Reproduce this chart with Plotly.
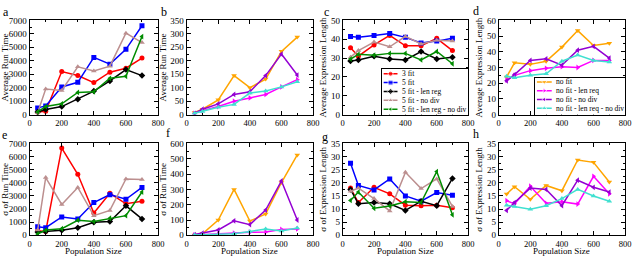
import plotly.graph_objects as go

pop = [50, 100, 200, 300, 400, 500, 600, 700]

fit_names = ["3 fit", "5 fit", "5 fit - len reg", "5 fit - no div", "5 fit - len reg - no div"]
nofit_names = ["no fit", "no fit - len req", "no fit - no div", "no fit - len req - no div"]

# a: average run time (fit)
a_3fit = [200, 250, 3200, 2900, 2380, 3150, 3450, 4200]
a_5fit = [500, 650, 2050, 2400, 4250, 3750, 4850, 6600]
a_5fit_lr = [200, 380, 600, 1150, 1750, 2500, 3350, 2900]
a_5fit_nd = [150, 1900, 1800, 3550, 3250, 3600, 6050, 5350]
a_5fit_lr_nd = [200, 600, 800, 1650, 1700, 2700, 2850, 5800]

# b: average run time (no fit)
b_nofit = [8, 20, 55, 145, 100, 132, 235, 288]
b_nofit_lr = [5, 15, 30, 50, 62, 75, 103, 130]
b_nofit_nd = [5, 20, 40, 75, 85, 145, 225, 147]
b_nofit_lr_nd = [5, 12, 27, 38, 80, 88, 103, 122]

# c: average expression length (fit)
c_3fit = [35.5, 31, 37, 42, 36.5, 36.5, 40.5, 34]
c_5fit = [41.5, 41, 42, 43, 41, 38, 39, 40.5]
c_5fit_lr = [28.5, 29, 31, 29.5, 29, 33.5, 29.5, 30.5]
c_5fit_nd = [30.5, 34, 38.5, 36, 41.5, 37.5, 39.5, 39]
c_5fit_lr_nd = [29.5, 32, 31.5, 32.5, 32.5, 29, 33.5, 27]

# d: average expression length (no fit)
d_nofit = [24, 33, 32, 34, 43, 53.5, 44, 45.5]
d_nofit_lr = [22, 25, 28, 29.5, 30.5, 30, 34.5, 34.5]
d_nofit_nd = [21.5, 25.5, 34.5, 35.5, 31.5, 41, 43.5, 36]
d_nofit_lr_nd = [24.5, 23.5, 25, 26, 34, 38, 34.5, 33.5]

# e: sigma of run time (fit)
e_3fit = [350, 300, 6650, 4650, 1700, 3200, 2400, 2600]
e_5fit = [650, 580, 1400, 1250, 2500, 3100, 2750, 3650]
e_5fit_lr = [250, 300, 380, 580, 1000, 1050, 2250, 1250]
e_5fit_nd = [400, 4400, 2350, 3650, 1500, 1900, 4300, 4250]
e_5fit_lr_nd = [100, 400, 500, 1150, 1050, 1300, 1500, 3300]

# f: sigma of run time (no fit)
f_nofit = [2, 10, 100, 300, 93, 140, 345, 525]
f_nofit_lr = [2, 5, 8, 15, 20, 22, 38, 42]
f_nofit_nd = [5, 15, 35, 95, 70, 165, 355, 100]
f_nofit_lr_nd = [2, 3, 5, 10, 25, 42, 28, 48]

# g: sigma of expression length (fit)
g_3fit = [18, 12.5, 18.3, 15.8, 11.5, 11.3, 11.5, 10.5]
g_5fit = [27.5, 19, 17.3, 21.5, 15, 13, 16.3, 15.3]
g_5fit_lr = [17.5, 12, 12.5, 12, 9.5, 13, 11.3, 21.7]
g_5fit_nd = [16.8, 18, 14, 9.3, 24, 17.8, 21.5, 11]
g_5fit_lr_nd = [13.3, 16.5, 10.3, 11.2, 12.8, 12.5, 24.3, 7.8]

# h: sigma of expression length (no fit)
h_nofit = [15.7, 18.5, 13.7, 19, 17, 28.7, 27.8, 20.3]
h_nofit_lr = [13.2, 12, 18.7, 12.2, 12.8, 11.9, 22.5, 15.8]
h_nofit_nd = [9.5, 12.5, 18, 17.5, 11.3, 21, 18.3, 16.5]
h_nofit_lr_nd = [11.5, 11, 9.9, 11.3, 14, 17.5, 15, 13]

panel_letters = ["a", "b", "c", "d", "e", "f", "g", "h"]
y_titles = ["Average Run Time", "Average Run Time", "Average Expression Length", "Average Expression Length",
            "σ of Run Time", "σ of Run Time", "σ of Expression Length", "σ of Expression Length"]
x_title = "Population Size"

fit_colors = ["#ff0000", "#0000ff", "#000000", "#bc8f8f", "#008c00"]
fit_symbols = ["circle", "square", "diamond", "triangle-up", "triangle-left"]
nofit_colors = ["#ffa500", "#ff00ff", "#9400d3", "#40e0d0"]
nofit_symbols = ["triangle-down", "triangle-right", "triangle-left", "triangle-up"]

panels = [
    ([a_3fit, a_5fit, a_5fit_lr, a_5fit_nd, a_5fit_lr_nd], "fit", 7000, 1000),
    ([b_nofit, b_nofit_lr, b_nofit_nd, b_nofit_lr_nd], "nofit", 350, 50),
    ([c_3fit, c_5fit, c_5fit_lr, c_5fit_nd, c_5fit_lr_nd], "fit", 50, 10),
    ([d_nofit, d_nofit_lr, d_nofit_nd, d_nofit_lr_nd], "nofit", 60, 10),
    ([e_3fit, e_5fit, e_5fit_lr, e_5fit_nd, e_5fit_lr_nd], "fit", 7000, 1000),
    ([f_nofit, f_nofit_lr, f_nofit_nd, f_nofit_lr_nd], "nofit", 600, 100),
    ([g_3fit, g_5fit, g_5fit_lr, g_5fit_nd, g_5fit_lr_nd], "fit", 35, 5),
    ([h_nofit, h_nofit_lr, h_nofit_nd, h_nofit_lr_nd], "nofit", 35, 5),
]

W, H = 640, 261
FONT = "Liberation Serif"
left_px = [28, 187, 345, 503]
right_px = [158, 315, 472, 631]
rows_px = [(16, 114), (144, 239.5)]

fig = go.Figure()
layout = dict(
    width=W, height=H, margin=dict(l=0, r=0, t=0, b=0),
    paper_bgcolor="white", plot_bgcolor="white", showlegend=False,
    font=dict(family=FONT, size=9, color="black"),
)
annotations = []

for i, (series, kind, ymax, dy) in enumerate(panels):
    k = i + 1
    col = i % 4
    row = i // 4
    xa = "x" if k == 1 else f"x{k}"
    ya = "y" if k == 1 else f"y{k}"
    colors = fit_colors if kind == "fit" else nofit_colors
    symbols = fit_symbols if kind == "fit" else nofit_symbols
    names = fit_names if kind == "fit" else nofit_names
    for s, c, sym, n in zip(series, colors, symbols, names):
        fig.add_trace(go.Scatter(
            x=pop, y=s, mode="lines+markers", name=n, xaxis=xa, yaxis=ya,
            line=dict(color=c, width=1.5),
            marker=dict(color=c, symbol=sym, size=5),
        ))
    top, bot = rows_px[row]
    axcommon = dict(showline=True, mirror="ticks", linecolor="black", linewidth=1,
                    ticks="inside", ticklen=4, tickwidth=1, tickcolor="black",
                    showgrid=False, zeroline=False,
                    tickfont=dict(family=FONT, size=9),
                    minor=dict(ticks="inside", ticklen=2, tickcolor="black", showgrid=False))
    xaxis = dict(axcommon, domain=[left_px[col] / W, right_px[col] / W], range=[0, 800],
                 tick0=0, dtick=200, anchor=ya)
    xaxis["tickfont"] = dict(family=FONT, size=8.5)
    xaxis["minor"] = dict(axcommon["minor"], dtick=100)
    yaxis = dict(axcommon, domain=[1 - bot / H, 1 - top / H], range=[0, ymax],
                 tick0=0, dtick=dy, anchor=xa,
                 title=dict(text=y_titles[i], font=dict(family=FONT, size=9), standoff=2))
    yaxis["minor"] = dict(axcommon["minor"], dtick=dy / 2)
    layout["xaxis" if k == 1 else f"xaxis{k}"] = xaxis
    layout["yaxis" if k == 1 else f"yaxis{k}"] = yaxis
    if row == 1:
        annotations.append(dict(text=x_title, x=(left_px[col] + right_px[col]) / 2 / W,
                                y=0, xref="paper", yref="paper", showarrow=False,
                                xanchor="center", yanchor="bottom", borderpad=0, borderwidth=0,
                                font=dict(family=FONT, size=9, color="black")))

letter_pos = [(4, 7), (164, 7), (329, 7), (480, 6), (3, 135), (168, 133), (327, 137), (480, 134)]
for letter, (px, py) in zip(panel_letters, letter_pos):
    annotations.append(dict(text=letter, x=px / W, y=1 - py / H, xref="paper", yref="paper",
                            showarrow=False, xanchor="center", yanchor="middle",
                            font=dict(family=FONT, size=12, color="black")))

# legends built on small dedicated axes (box position in px)
legend_boxes = [
    (fit_names, fit_colors, fit_symbols, (385, 472, 67, 114), 4.5, 9.2, (1.5, 15.5), 18),
    (nofit_names, nofit_colors, nofit_symbols, (540, 631, 75.5, 114), 4.5, 9.1, (1.7, 16.7), 19),
]
for j, (names, colors, symbols, (x0, x1, y0, y1), r0, dr, (lx0, lx1), tx) in enumerate(legend_boxes):
    k = 9 + j
    xa, ya = f"x{k}", f"y{k}"
    for m, (n, c, sym) in enumerate(zip(names, colors, symbols)):
        ry = r0 + dr * m
        fig.add_trace(go.Scatter(
            x=[lx0, (lx0 + lx1) / 2, lx1], y=[ry, ry, ry], mode="lines+markers",
            xaxis=xa, yaxis=ya, hoverinfo="skip",
            line=dict(color=c, width=1.5),
            marker=dict(color=c, symbol=sym, size=[0, 5, 0]),
        ))
        annotations.append(dict(text=n, x=tx, y=ry, xref=xa, yref=ya, showarrow=False,
                                xanchor="left", yanchor="middle",
                                font=dict(family=FONT, size=7.5, color="black")))
    layout[f"xaxis{k}"] = dict(domain=[x0 / W, x1 / W], range=[0, x1 - x0], anchor=ya,
                               showline=True, mirror=True, linecolor="black", linewidth=1,
                               showticklabels=False, ticks="", showgrid=False, zeroline=False)
    layout[f"yaxis{k}"] = dict(domain=[1 - y1 / H, 1 - y0 / H], range=[y1 - y0, 0], anchor=xa,
                               showline=True, mirror=True, linecolor="black", linewidth=1,
                               showticklabels=False, ticks="", showgrid=False, zeroline=False)

layout["annotations"] = annotations
fig.update_layout(**layout)
fig.write_html("out.html", config={"displayModeBar": False},
               post_script="document.body.style.margin='0';document.body.style.overflow='hidden';")
